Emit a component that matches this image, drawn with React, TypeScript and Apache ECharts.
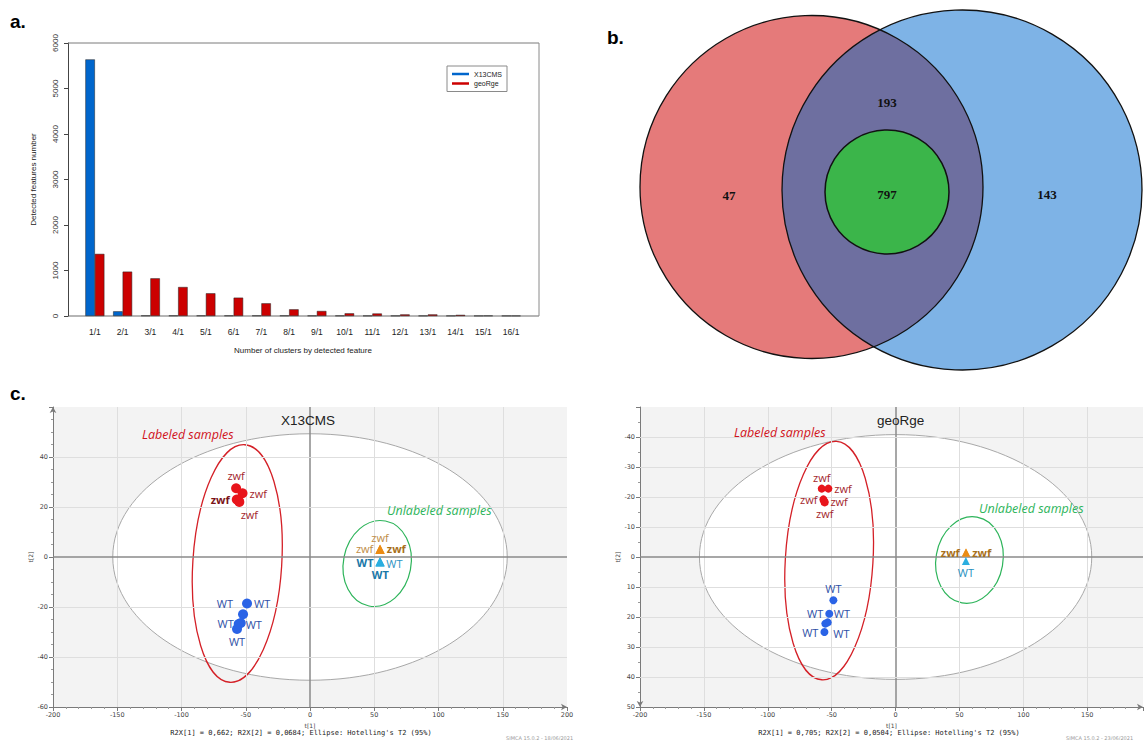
import React, { useEffect, useRef } from "react";
import * as echarts from "echarts";

// ---------- Panel a : bar chart data ----------
const clusterCategories = ["1/1", "2/1", "3/1", "4/1", "5/1", "6/1", "7/1", "8/1", "9/1", "10/1", "11/1", "12/1", "13/1", "14/1", "15/1", "16/1"];
const x13cmsFeatures = [5640, 103, 10, 10, 10, 10, 10, 10, 8, 8, 6, 6, 6, 6, 5, 5];
const geoRgeFeatures = [1365, 975, 828, 637, 499, 403, 279, 147, 110, 59, 55, 35, 35, 25, 8, 5];

// ---------- Panel b : Venn counts ----------
const vennRegionCounts = [47, 193, 797, 143]; // red only, shared, core, blue only

// ---------- Panel c : score plots (t[1], t[2]) ----------
const leftZwfLabeled = [[-57.5, 27.5], [-52.5, 25.5], [-57, 23], [-55.5, 22.5], [-55, 22]];
const leftWtLabeled = [[-49, -18.6], [-52.1, -22.9], [-53.9, -26.4], [-55.5, -26.8], [-56.8, -28.8]];
const leftZwfUnlabeled = [[54.5, 3.2], [54.3, 3.0], [54.7, 3.0]];
const leftWtUnlabeled = [[54.5, -1.8], [54.3, -2.0], [54.7, -2.0]];

const rightZwfLabeled = [[-57.8, -22.8], [-52.6, -22.8], [-56.5, -19.2], [-55.7, -18.5], [-55.5, -18.2]];
const rightWtLabeled = [[-48.7, 14.4], [-51.9, 18.9], [-53.1, 21.8], [-55, 22.2], [-55.7, 25.0]];
const rightZwfUnlabeled = [[55, -1.5], [55.2, -1.5]];
const rightWtUnlabeled = [[55, 1.3]];

// ellipses: [cx, cy, rx, ry, tiltDeg]
const leftHotelling = [0, 0, 153.5, 49.3, 0];
const leftLabeledEllipse = [-56.6, -2.6, 34.6, 47.6, 3.6];
const leftUnlabeledEllipse = [52.3, -2.6, 26.3, 17.3, 11];
const rightHotelling = [0, 0, 153.5, 40.8, 0];
const rightLabeledEllipse = [-52, 1.2, 34.3, 39.8, 3.5];
const rightUnlabeledEllipse = [57.8, 1.0, 26.2, 14.5, 10];

const leftXGrid = [-150, -100, -50, 0, 50, 100, 150];
const leftYGrid = [-40, -20, 0, 20, 40];
const rightXGrid = [-150, -100, -50, 0, 50, 100, 150];
const rightYGrid = [-40, -30, -20, -10, 0, 10, 20, 30, 40];

// visible t[1] range of each score plot (right one is cropped by the page edge)
const leftXRange = [-200, 200];
const rightXRange = [-200, 193.6];

// label placements (style only)
type Tag = { pos: string; dx?: number; dy?: number; bold?: boolean; hide?: boolean };
const leftZwfLabeledTags: Tag[] = [{ pos: "top" }, { pos: "right" }, { pos: "left", bold: true }, { pos: "left", hide: true }, { pos: "bottom", dx: 10 }];
const leftWtLabeledTags: Tag[] = [{ pos: "right" }, { pos: "left", dx: -3, dy: -11 }, { pos: "left" }, { pos: "right" }, { pos: "bottom" }];
const leftZwfUnlabeledTags: Tag[] = [{ pos: "top" }, { pos: "left", dy: -1 }, { pos: "right", bold: true, dy: -1 }];
const leftWtUnlabeledTags: Tag[] = [{ pos: "left", bold: true, dy: 1 }, { pos: "right", dy: 1 }, { pos: "bottom", bold: true }];
const rightZwfLabeledTags: Tag[] = [{ pos: "top" }, { pos: "right" }, { pos: "left" }, { pos: "right" }, { pos: "bottom" }];
const rightWtLabeledTags: Tag[] = [{ pos: "top" }, { pos: "left" }, { pos: "right", dy: -9 }, { pos: "right", dx: 2, dy: 10 }, { pos: "left" }];
const rightZwfUnlabeledTags: Tag[] = [{ pos: "left", bold: true }, { pos: "right", bold: true }];
const rightWtUnlabeledTags: Tag[] = [{ pos: "bottom" }];

// Venn layout
const VL = { cx: 811.5, cy: 187, r: 171.5 };
const VR = { cx: 962, cy: 190, r: 180 };
const VC = { cx: 887, cy: 192, r: 62 };

function lensPath(a: any, b: any) {
  const dx = b.cx - a.cx, dy = b.cy - a.cy;
  const d = Math.hypot(dx, dy);
  const l = (d * d + a.r * a.r - b.r * b.r) / (2 * d);
  const h = Math.sqrt(a.r * a.r - l * l);
  const mx = a.cx + (dx * l) / d, my = a.cy + (dy * l) / d;
  const p1 = [mx + (h * dy) / d, my - (h * dx) / d];
  const p2 = [mx - (h * dy) / d, my + (h * dx) / d];
  return `M${p1[0]} ${p1[1]} A${a.r} ${a.r} 0 0 1 ${p2[0]} ${p2[1]} A${b.r} ${b.r} 0 0 1 ${p1[0]} ${p1[1]} Z`;
}

echarts.graphic.registerShape("vennLens", echarts.graphic.extendPath(lensPath(VL, VR), {}) as any);

const LABEL_FONT = "'Open Sans', 'Noto Sans', sans-serif";
const R_FONT = "'Liberation Sans', Arial, sans-serif";

function scatterSeries(idx: number, data: number[][], tags: Tag[], text: string, symbol: string, size: number, color: string, labelColor: string, boldColor: string) {
  return {
    type: "scatter",
    name: text + idx,
    xAxisIndex: idx,
    yAxisIndex: idx,
    z: 5,
    silent: true,
    symbol,
    symbolSize: size,
    itemStyle: { color, opacity: 1 },
    label: { show: true, formatter: () => text, color: labelColor, fontSize: 11, fontFamily: LABEL_FONT, distance: 2 },
    data: data.map((p, i) => {
      const t = tags[i];
      return {
        value: p,
        label: {
          show: !t.hide,
          position: t.pos,
          offset: [t.dx || 0, t.dy || 0],
          fontWeight: t.bold ? "bold" : "normal",
          color: t.bold ? boldColor : labelColor,
        },
      };
    }),
  };
}

function ellipseSeries(idx: number, params: number[], style: any, z: number) {
  return {
    type: "custom",
    xAxisIndex: idx,
    yAxisIndex: idx,
    z,
    silent: true,
    clip: false,
    data: [params],
    renderItem: (_p: any, api: any) => {
      const cx = api.value(0), cy = api.value(1), rx = api.value(2), ry = api.value(3), tilt = api.value(4);
      const c = api.coord([cx, cy]);
      const e = api.coord([cx + rx, cy + ry]);
      return {
        type: "ellipse",
        x: c[0],
        y: c[1],
        rotation: (-tilt * Math.PI) / 180,
        shape: { cx: 0, cy: 0, rx: Math.abs(e[0] - c[0]), ry: Math.abs(e[1] - c[1]) },
        style,
      };
    },
  };
}

function gridLineSeries(idx: number, xs: number[], ys: number[]) {
  const ls = (v: number) => ({ color: v === 0 ? "#8a8a8a" : "#dedede", width: v === 0 ? 1.5 : 1, type: "solid" });
  return {
    type: "scatter",
    xAxisIndex: idx,
    yAxisIndex: idx,
    z: 3,
    silent: true,
    symbolSize: 0,
    data: [[0, 0]],
    markLine: {
      silent: true,
      symbol: ["none", "none"],
      label: { show: false },
      animation: false,
      data: [...xs.map((v) => ({ xAxis: v, lineStyle: ls(v) })), ...ys.map((v) => ({ yAxis: v, lineStyle: ls(v) }))],
    },
  };
}

const AX_FONT = "'DejaVu Sans', sans-serif";

function pcaXAxis(idx: number, range: number[]) {
  return {
    type: "value",
    gridIndex: idx,
    min: range[0],
    max: range[1],
    interval: 50,
    axisLine: { show: true, onZero: false, lineStyle: { color: "#7a7a7a" }, symbol: ["none", "arrow"], symbolSize: [5, 6] },
    axisTick: { show: true, length: 4, lineStyle: { color: "#7a7a7a" } },
    minorTick: { show: true, splitNumber: 5, length: 2, lineStyle: { color: "#999" } },
    axisLabel: { fontSize: 6.5, color: "#444", margin: 4, fontFamily: AX_FONT, formatter: (v: number) => (v % 50 === 0 ? String(v) : "") },
    splitLine: { show: false },
    name: "t[1]",
    nameLocation: "middle",
    nameGap: 15,
    nameTextStyle: { fontSize: 6, color: "#444", fontFamily: AX_FONT },
  };
}

export default function App() {
  const ref = useRef<HTMLDivElement>(null);
  useEffect(() => {
    if (!ref.current) return;
    const chart = echarts.init(ref.current, undefined, { renderer: "svg" });
    const txt = (text: string, x: number, y: number, o: any = {}) => ({
      type: "text",
      z: 10,
      style: {
        text,
        x,
        y,
        align: o.align || "left",
        textAlign: o.align || "left",
        verticalAlign: "middle",
        textVerticalAlign: "middle",
        fontSize: o.size || 10,
        fontFamily: o.family || R_FONT,
        fontWeight: o.weight || "normal",
        fontStyle: o.style || "normal",
        fill: o.color || "#000",
      },
    });
    const line = (x1: number, y1: number, x2: number, y2: number, color: string, w: number, z = 1) => ({
      type: "line",
      z,
      silent: true,
      shape: { x1, y1, x2, y2 },
      style: { stroke: color, lineWidth: w },
    });

    const option: any = {
      animation: false,
      backgroundColor: "#fff",
      legend: {
        data: ["X13CMS", "geoRge"],
        left: 447,
        top: 66,
        orient: "vertical",
        icon: "rect",
        itemWidth: 17,
        itemHeight: 2.5,
        itemGap: 1.5,
        padding: [4, 5, 4, 5],
        borderColor: "#8a8a8a",
        borderWidth: 1,
        itemStyle: { borderWidth: 0 },
        textStyle: { fontSize: 7, color: "#222", lineHeight: 8, fontFamily: R_FONT },
        selectedMode: false,
      },
      grid: [
        { left: 81, top: 43, width: 444, height: 273 },
        { left: 53, top: 407, width: 514, height: 300, show: true, backgroundColor: "#f3f3f3", borderWidth: 0 },
        { left: 640, top: 407, width: 506, height: 300, show: true, backgroundColor: "#f3f3f3", borderWidth: 0 },
      ],
      xAxis: [
        {
          type: "category",
          gridIndex: 0,
          data: clusterCategories,
          axisLine: { show: false },
          axisTick: { show: false },
          axisLabel: { fontSize: 8.5, color: "#222", margin: 11, interval: 0, fontFamily: R_FONT },
          name: "Number of clusters by detected feature",
          nameLocation: "middle",
          nameGap: 30,
          nameTextStyle: { fontSize: 8, color: "#222", fontFamily: R_FONT },
        },
        pcaXAxis(1, leftXRange),
        pcaXAxis(2, rightXRange),
      ],
      yAxis: [
        {
          type: "value",
          gridIndex: 0,
          min: 0,
          max: 6000,
          interval: 1000,
          offset: 13,
          axisLine: { show: true, lineStyle: { color: "#444" } },
          axisTick: { show: true, length: 4, lineStyle: { color: "#444" } },
          axisLabel: { rotate: 90, fontSize: 8, color: "#333", margin: 9, fontFamily: R_FONT, formatter: (v: number) => String(v) },
          splitLine: { show: false },
          name: "Detected features number",
          nameLocation: "middle",
          nameGap: 31,
          nameRotate: 90,
          nameTextStyle: { fontSize: 8, color: "#222", fontFamily: R_FONT },
        },
        {
          type: "value",
          gridIndex: 1,
          min: -60,
          max: 60,
          interval: 20,
          axisLine: { show: true, onZero: false, lineStyle: { color: "#7a7a7a" }, symbol: ["none", "arrow"], symbolSize: [5, 6] },
          axisTick: { show: true, length: 4, lineStyle: { color: "#7a7a7a" } },
          minorTick: { show: true, splitNumber: 4, length: 2, lineStyle: { color: "#999" } },
          axisLabel: {
            fontSize: 6.5,
            color: "#444",
            margin: 5,
            fontFamily: AX_FONT,
            formatter: (v: number) => (v === 60 ? "" : String(v)),
          },
          splitLine: { show: false },
          name: "t[2]",
          nameLocation: "middle",
          nameGap: 17,
          nameRotate: 90,
          nameTextStyle: { fontSize: 6, color: "#444", fontFamily: AX_FONT },
        },
        {
          type: "value",
          gridIndex: 2,
          min: -50,
          max: 50,
          interval: 10,
          inverse: true,
          axisLine: { show: true, onZero: false, lineStyle: { color: "#7a7a7a" }, symbol: ["arrow", "none"], symbolSize: [5, 6] },
          axisTick: { show: true, length: 4, lineStyle: { color: "#7a7a7a" } },
          minorTick: { show: true, splitNumber: 2, length: 2, lineStyle: { color: "#999" } },
          axisLabel: {
            fontSize: 6.5,
            color: "#444",
            margin: 5,
            fontFamily: AX_FONT,
            formatter: (v: number) => (v === -50 ? "" : String(v)),
          },
          splitLine: { show: false },
          name: "t[2]",
          nameLocation: "middle",
          nameGap: 17,
          nameRotate: 90,
          nameTextStyle: { fontSize: 6, color: "#444", fontFamily: AX_FONT },
        },
      ],
      series: [
        {
          type: "bar",
          name: "X13CMS",
          xAxisIndex: 0,
          yAxisIndex: 0,
          data: x13cmsFeatures,
          barWidth: 9.5,
          barGap: "0%",
          itemStyle: { color: "#0066CC", borderColor: "#222", borderWidth: 0.5 },
        },
        {
          type: "bar",
          name: "geoRge",
          xAxisIndex: 0,
          yAxisIndex: 0,
          data: geoRgeFeatures,
          barWidth: 9.5,
          barGap: "0%",
          itemStyle: { color: "#CC0000", borderColor: "#222", borderWidth: 0.5 },
        },
        // left score plot
        ellipseSeries(1, leftHotelling, { fill: "#ffffff", stroke: "#a8a8a8", lineWidth: 1 }, 1),
        gridLineSeries(1, leftXGrid, leftYGrid),
        ellipseSeries(1, leftLabeledEllipse, { fill: "none", stroke: "#D42027", lineWidth: 1.3 }, 4),
        ellipseSeries(1, leftUnlabeledEllipse, { fill: "none", stroke: "#2DB45A", lineWidth: 1.2 }, 4),
        scatterSeries(1, leftZwfLabeled, leftZwfLabeledTags, "zwf", "circle", 10, "#E8151C", "#A3262C", "#7A1418"),
        scatterSeries(1, leftWtLabeled, leftWtLabeledTags, "WT", "circle", 10, "#2A63E6", "#2E4FA6", "#23408F"),
        scatterSeries(1, leftWtUnlabeled, leftWtUnlabeledTags, "WT", "triangle", 9, "#2BAEE0", "#2E92C2", "#1A78A8"),
        scatterSeries(1, leftZwfUnlabeled, leftZwfUnlabeledTags, "zwf", "triangle", 9, "#EB8C14", "#BE8C46", "#A8701A"),
        // right score plot
        ellipseSeries(2, rightHotelling, { fill: "#ffffff", stroke: "#a8a8a8", lineWidth: 1 }, 1),
        gridLineSeries(2, rightXGrid, rightYGrid),
        ellipseSeries(2, rightLabeledEllipse, { fill: "none", stroke: "#D42027", lineWidth: 1.3 }, 4),
        ellipseSeries(2, rightUnlabeledEllipse, { fill: "none", stroke: "#2DB45A", lineWidth: 1.2 }, 4),
        scatterSeries(2, rightZwfLabeled, rightZwfLabeledTags, "zwf", "circle", 8, "#E8151C", "#A3262C", "#7A1418"),
        scatterSeries(2, rightWtLabeled, rightWtLabeledTags, "WT", "circle", 8, "#2A63E6", "#2E4FA6", "#23408F"),
        scatterSeries(2, rightWtUnlabeled, rightWtUnlabeledTags, "WT", "triangle", 8, "#2BAEE0", "#2690C0", "#1A78A8"),
        scatterSeries(2, rightZwfUnlabeled, rightZwfUnlabeledTags, "zwf", "triangle", 8, "#EB8C14", "#BE8C46", "#A8701A"),
      ],
      graphic: {
        elements: [
          // panel letters
          txt("a.", 10, 21, { size: 19, weight: "bold" }),
          txt("b.", 607, 37, { size: 19, weight: "bold" }),
          txt("c.", 10, 393, { size: 19, weight: "bold" }),
          // bar chart frame
          line(68, 43, 539, 43, "#7a7a7a", 1),
          line(539, 43, 539, 316, "#8a8a8a", 1),
          line(68, 316, 539, 316, "#b5b5b5", 2, 0),
          // Venn
          { type: "circle", z: 1, silent: true, shape: { cx: VL.cx, cy: VL.cy, r: VL.r }, style: { fill: "#E57A7A" } },
          { type: "circle", z: 2, silent: true, shape: { cx: VR.cx, cy: VR.cy, r: VR.r }, style: { fill: "#7EB3E6" } },
          { type: "vennLens", z: 3, silent: true, x: 0, y: 0, style: { fill: "#6E6FA0" } },
          { type: "circle", z: 4, silent: true, shape: { cx: VL.cx, cy: VL.cy, r: VL.r }, style: { fill: "none", stroke: "#111", lineWidth: 1.3 } },
          { type: "circle", z: 4, silent: true, shape: { cx: VR.cx, cy: VR.cy, r: VR.r }, style: { fill: "none", stroke: "#111", lineWidth: 1.3 } },
          { type: "circle", z: 5, silent: true, shape: { cx: VC.cx, cy: VC.cy, r: VC.r }, style: { fill: "#3BB54A", stroke: "#111", lineWidth: 1.5 } },
          txt(String(vennRegionCounts[0]), 729, 195, { size: 13, weight: "bold", align: "center", family: "'Liberation Serif', 'DejaVu Serif', serif", color: "#111" }),
          txt(String(vennRegionCounts[1]), 887, 102, { size: 13, weight: "bold", align: "center", family: "'Liberation Serif', 'DejaVu Serif', serif", color: "#111" }),
          txt(String(vennRegionCounts[2]), 887, 194, { size: 13, weight: "bold", align: "center", family: "'Liberation Serif', 'DejaVu Serif', serif", color: "#111" }),
          txt(String(vennRegionCounts[3]), 1047, 194, { size: 13, weight: "bold", align: "center", family: "'Liberation Serif', 'DejaVu Serif', serif", color: "#111" }),
          // score plot titles & annotations
          txt("X13CMS", 281, 420, { size: 13.5, color: "#222", family: R_FONT }),
          txt("geoRge", 877, 420, { size: 13.5, color: "#222", family: R_FONT }),
          txt("Labeled samples", 142, 434, { size: 12.5, style: "italic", color: "#D0121B", family: LABEL_FONT }),
          txt("Unlabeled samples", 387, 510, { size: 12.5, style: "italic", color: "#2DB45A", family: LABEL_FONT }),
          txt("Labeled samples", 734, 432, { size: 12.5, style: "italic", color: "#D0121B", family: LABEL_FONT }),
          txt("Unlabeled samples", 979, 508, { size: 12.5, style: "italic", color: "#2DB45A", family: LABEL_FONT }),
          txt("R2X[1] = 0,662; R2X[2] = 0,0684; Ellipse: Hotelling's T2 (95%)", 301, 733, { size: 7, align: "center", family: "'DejaVu Sans Mono', monospace", color: "#222" }),
          txt("R2X[1] = 0,705; R2X[2] = 0,0504; Ellipse: Hotelling's T2 (95%)", 889, 733, { size: 7, align: "center", family: "'DejaVu Sans Mono', monospace", color: "#222" }),
          txt("SIMCA 15.0.2 - 18/06/2021", 506, 738, { size: 5, color: "#9a9a9a", family: AX_FONT }),
          txt("SIMCA 15.0.2 - 23/06/2021", 1066, 738, { size: 5, color: "#9a9a9a", family: AX_FONT }),
        ],
      },
    };
    chart.setOption(option);
    return () => chart.dispose();
  }, []);
  return <div ref={ref} style={{ position: "fixed", left: 0, top: 0, width: 1146, height: 740, background: "#fff" }} />;
}
